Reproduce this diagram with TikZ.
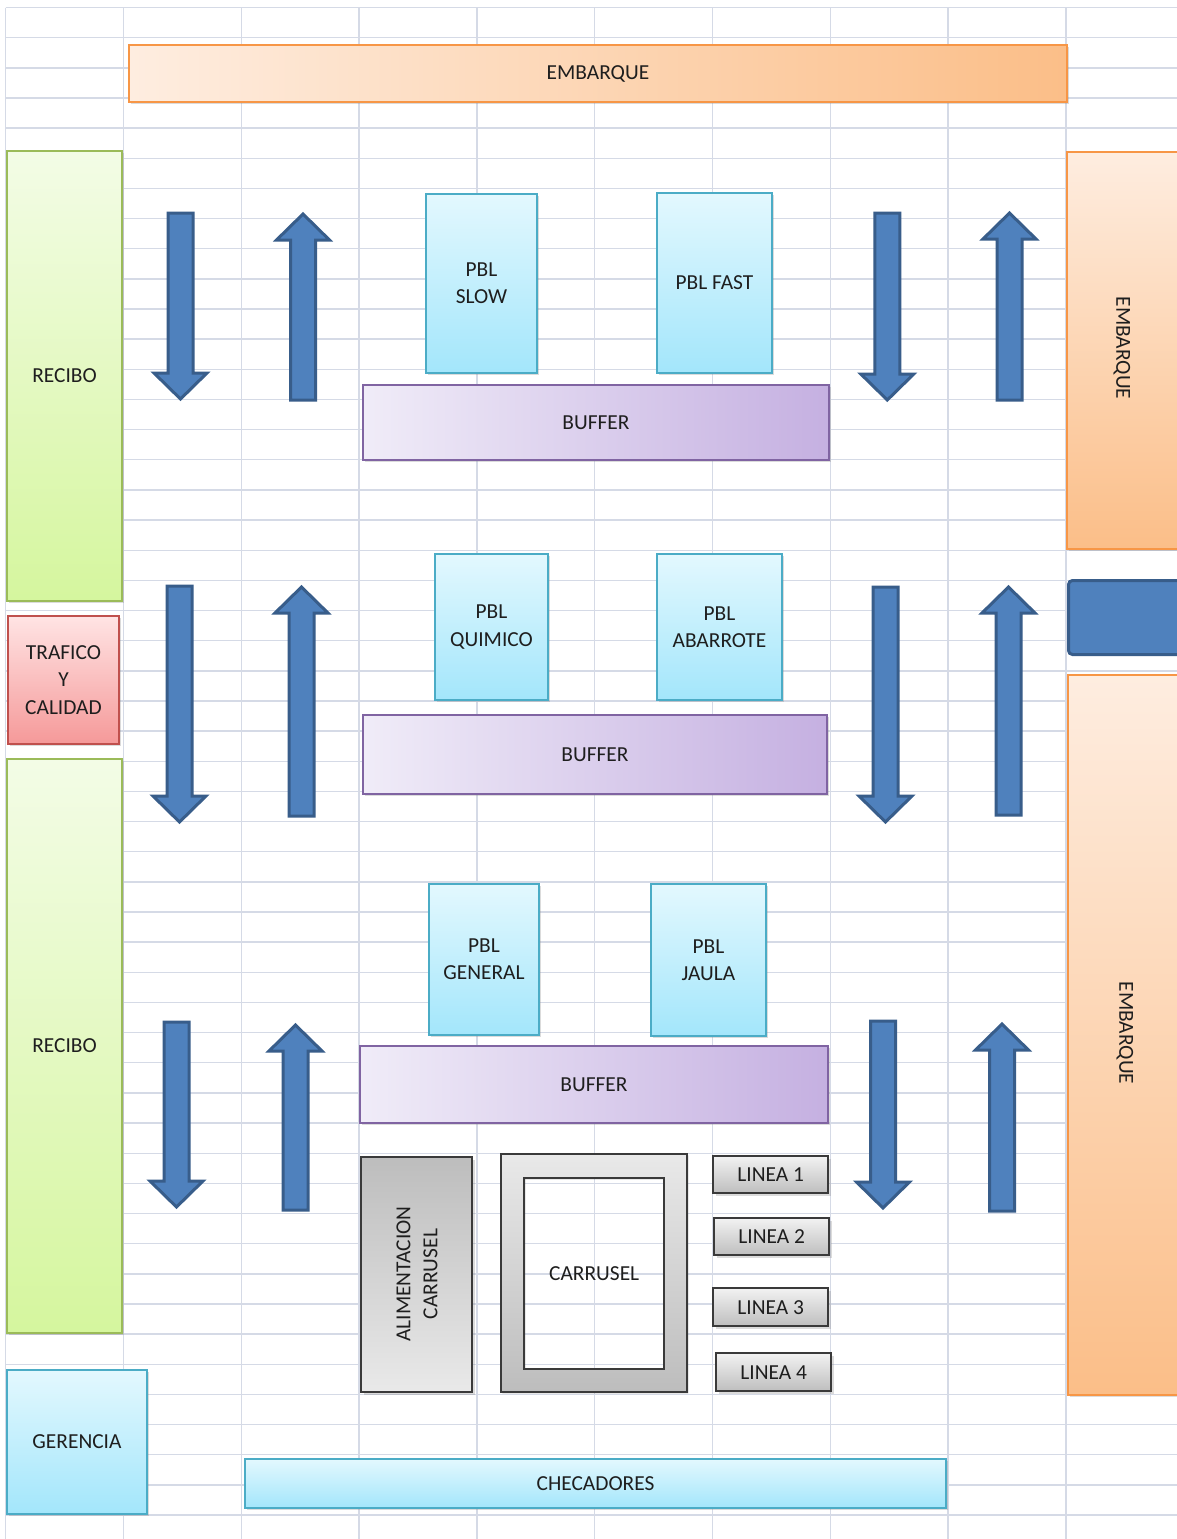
\documentclass[tikz,border=0pt]{standalone}
\usepackage{fontspec}
\setmainfont{Carlito}
\usetikzlibrary{shadows}
\definecolor{gridc}{HTML}{D5DAE6}
\definecolor{txt}{HTML}{1E1E1E}
\definecolor{orB}{HTML}{F79646}
\definecolor{orL}{HTML}{FEEDE0}
\definecolor{orD}{HTML}{FBBE88}
\definecolor{grB}{HTML}{9BBB59}
\definecolor{grL}{HTML}{F3FCE6}
\definecolor{grD}{HTML}{D5F69E}
\definecolor{reB}{HTML}{C0504D}
\definecolor{reL}{HTML}{FFE4E4}
\definecolor{reD}{HTML}{F59999}
\definecolor{cyB}{HTML}{4BACC6}
\definecolor{cyL}{HTML}{E3F8FE}
\definecolor{cyD}{HTML}{A3E6FB}
\definecolor{puB}{HTML}{8064A2}
\definecolor{puL}{HTML}{F0ECF8}
\definecolor{puD}{HTML}{C5B0E1}
\definecolor{arF}{HTML}{4F81BD}
\definecolor{arB}{HTML}{385D8A}
\definecolor{dkB}{HTML}{3A3A3A}
\definecolor{gyL}{HTML}{F2F2F2}
\definecolor{gyD}{HTML}{BEBEBE}
\definecolor{feL}{HTML}{E9E9E9}
\definecolor{feD}{HTML}{BDBDBD}
\tikzset{
  x=0.5pt, y=-0.5pt,
  gridline/.style={draw=gridc, line width=0.7pt},
  shp/.style={rectangle, inner sep=0pt, line width=1pt, text=txt, align=center,
    font=\fontsize{10.7}{13.6}\selectfont,
    drop shadow={opacity=0.28, shadow xshift=1.2pt, shadow yshift=-1.2pt}},
  orangeh/.style={shp, draw=orB, left color=orL, right color=orD},
  orangev/.style={shp, draw=orB, top color=orL, bottom color=orD},
  greenbox/.style={shp, draw=grB, top color=grL, bottom color=grD},
  redbox/.style={shp, draw=reB, top color=reL, bottom color=reD},
  cyanbox/.style={shp, draw=cyB, top color=cyL, bottom color=cyD},
  purplebox/.style={shp, draw=puB, left color=puL, right color=puD},
  linebox/.style={shp, draw=dkB, line width=1.2pt, top color=gyL, bottom color=gyD},
  feedbox/.style={shp, draw=dkB, line width=1.2pt, top color=feD, bottom color=feL},
  bluebox/.style={rectangle, inner sep=0pt, draw=arB, fill=arF, line width=1.5pt, rounded corners=2pt},
  plainlabel/.style={text=txt, font=\fontsize{10.7}{13.6}\selectfont, align=center, inner sep=0pt},
  bluearrow/.style={fill=arF, draw=arB, line width=1.5pt, line join=miter},
}
% box: name, style, x1, y1, x2, y2, text
\newcommand\bx[7]{\node[#2, anchor=north west,
  minimum width={(#5-#3)*0.5pt}, minimum height={(#6-#4)*0.5pt}] (#1) at (#3,#4) {#7};}
% down arrow: centre x, top y, tip y
\newcommand\dnarr[3]{\draw[bluearrow] (#1-12.5,#2) -- (#1+12.5,#2) -- (#1+12.5,#3-26)
  -- (#1+26.5,#3-26) -- (#1,#3) -- (#1-26.5,#3-26) -- (#1-12.5,#3-26) -- cycle;}
% up arrow: centre x, tip y, bottom y
\newcommand\uparr[3]{\draw[bluearrow] (#1-12.5,#3) -- (#1+12.5,#3) -- (#1+12.5,#2+26)
  -- (#1+26.5,#2+26) -- (#1,#2) -- (#1-26.5,#2+26) -- (#1-12.5,#2+26) -- cycle;}
\begin{document}
\begin{tikzpicture}
\path[use as bounding box, clip] (0,0) rectangle (1177,1539);
\fill[white] (0,0) rectangle (1177,1539);
% spreadsheet grid
\foreach \k in {0,...,9} \draw[gridline] ({5.7+117.8*\k},7.5) -- ({5.7+117.8*\k},1539);
\foreach \k in {0,...,50} \draw[gridline] (5.7,{7.5+30.15*\k}) -- (1177,{7.5+30.15*\k});

% top and side areas
\bx{embtop}{orangeh}{128}{44}{1066}{101}{EMBARQUE}
\bx{recibo1}{greenbox}{6}{150}{121}{600}{RECIBO}
\bx{trafico}{redbox}{7}{615}{118}{743}{TRAFICO\\Y\\CALIDAD}
\bx{recibo2}{greenbox}{6}{758}{121}{1332}{RECIBO}
\bx{gerencia}{cyanbox}{6}{1369}{146}{1513}{GERENCIA}
\bx{checadores}{cyanbox}{244}{1458}{945}{1507}{CHECADORES}
\bx{embr1}{orangev}{1066}{151}{1195}{548}{}
\node[plainlabel, rotate=-90] (embr1t) at (1122,348) {EMBARQUE};
\bx{bluer}{bluebox}{1067}{579}{1195}{653}{}
\bx{embr2}{orangev}{1067}{674}{1195}{1394}{}
\node[plainlabel, rotate=-90] (embr2t) at (1125,1033) {EMBARQUE};

% PBL areas
\bx{pblslow}{cyanbox}{425}{193}{536}{372}{PBL\\SLOW}
\bx{pblfast}{cyanbox}{656}{192}{771}{372}{PBL FAST}
\bx{pblquim}{cyanbox}{434}{553}{547}{699}{PBL\\QUIMICO}
\bx{pblabar}{cyanbox}{656}{553}{781}{699}{PBL\\ABARROTE}
\bx{pblgen}{cyanbox}{428}{883}{538}{1034}{PBL\\GENERAL}
\bx{pbljaula}{cyanbox}{650}{883}{765}{1035}{PBL\\JAULA}

% buffers
\bx{buffer1}{purplebox}{362}{384}{828}{459}{BUFFER}
\bx{buffer2}{purplebox}{362}{714}{826}{793}{BUFFER}
\bx{buffer3}{purplebox}{359}{1045}{827}{1122}{BUFFER}

% carrusel zone
\bx{alim}{feedbox}{360}{1156}{471}{1391}{}
\node[plainlabel, rotate=90] (alimt) at (417,1274) {ALIMENTACION\\CARRUSEL};
\fill[black, opacity=0.25, even odd rule] (502.4,1155.4) rectangle (688.4,1393.4) (525.4,1179.4) rectangle (665.4,1370.4);
\shade[top color=feL, bottom color=feD, even odd rule] (500,1153) rectangle (686,1391) (523,1177) rectangle (663,1368);
\node[draw=dkB, line width=1.2pt, rectangle, inner sep=0pt, anchor=north west,
  minimum width=93pt, minimum height=119pt] (carrusel) at (500,1153) {};
\node[draw=dkB, line width=1.2pt, rectangle, inner sep=0pt, anchor=north west,
  minimum width=70pt, minimum height=95.5pt, plainlabel] (carruselin) at (523,1177) {CARRUSEL};
\bx{linea1}{linebox}{712}{1155}{827}{1192}{LINEA 1}
\bx{linea2}{linebox}{713}{1217}{828}{1254}{LINEA 2}
\bx{linea3}{linebox}{712}{1287}{827}{1325}{LINEA 3}
\bx{linea4}{linebox}{715}{1352}{830}{1390}{LINEA 4}

% flow arrows
\dnarr{180.5}{213}{399}  \uparr{303}{214}{400}
\dnarr{179.5}{586}{822}  \uparr{301.5}{587}{816}
\dnarr{176.5}{1022}{1207} \uparr{295.5}{1025}{1210}
\dnarr{887.3}{213}{400}  \uparr{1009.5}{213}{400}
\dnarr{885.5}{587}{822}  \uparr{1008.5}{587}{815}
\dnarr{883}{1021}{1208}  \uparr{1002}{1024}{1211}
\end{tikzpicture}
\end{document}
